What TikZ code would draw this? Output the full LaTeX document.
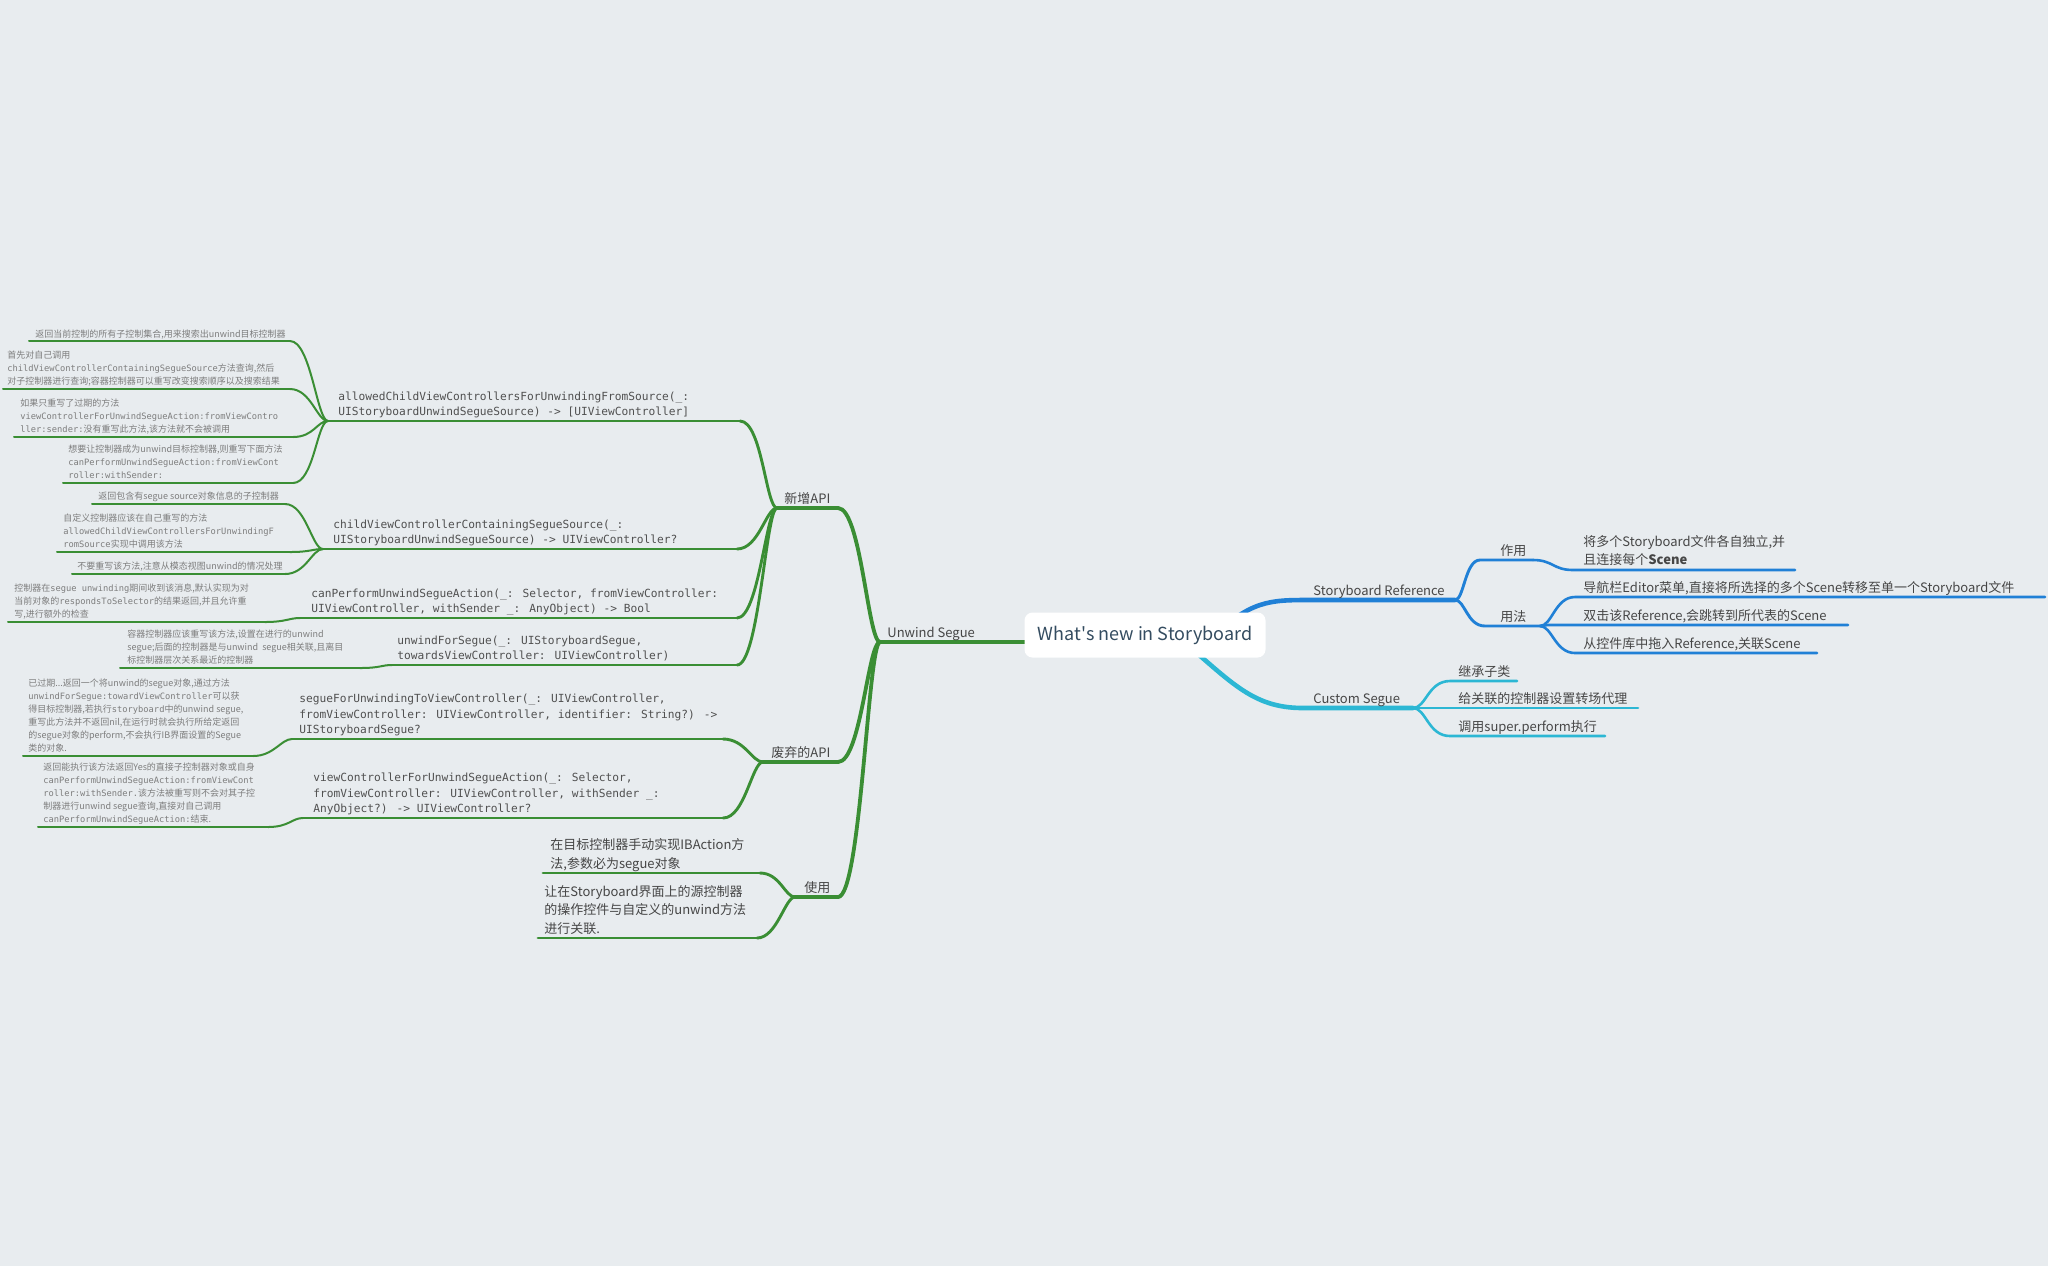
\documentclass[tikz,border=0pt]{standalone}
\usepackage{fontspec}
\setmainfont{Noto Sans CJK SC}
\newfontfamily\mono{DejaVu Sans Mono}
\definecolor{bgc}{RGB}{232,236,239}
\definecolor{grn}{RGB}{58,142,52}
\definecolor{blu}{RGB}{32,128,214}
\definecolor{cya}{RGB}{44,183,212}
\definecolor{labelc}{RGB}{70,70,70}
\definecolor{methc}{RGB}{80,80,80}
\definecolor{leafc}{RGB}{125,125,125}
\definecolor{rootc}{RGB}{52,76,96}
\newcommand\lm[1]{{\mono\fontsize{4.37pt}{6.5pt}\selectfont #1}}
\tikzset{
  lbl/.style={anchor=south west, inner sep=0pt, text depth=0pt, font=\fontsize{6.5pt}{8pt}\selectfont, text=labelc},
  meth/.style={anchor=south west, inner sep=0pt, text depth=0pt, align=left, font=\mono\fontsize{5.6pt}{7.75pt}\selectfont, text=methc},
  leaf/.style={anchor=south west, inner sep=0pt, text depth=0pt, align=left, font=\fontsize{4.5pt}{6.5pt}\selectfont, text=leafc},
  big/.style={anchor=south west, inner sep=0pt, text depth=0pt, align=left, font=\fontsize{6.5pt}{9.2pt}\selectfont, text=labelc},
  rootbox/.style={fill=white, rounded corners=4pt, minimum width=120.5pt, minimum height=22.5pt, inner sep=0pt, font=\fontsize{9pt}{11pt}\selectfont, text=rootc},
  trunk/.style={line width=2.3pt, line cap=round},
  lvone/.style={line width=1.9pt, line cap=round},
  lvtwo/.style={line width=1.45pt, line cap=round},
  lvthree/.style={line width=1.0pt, line cap=round},
  lvright/.style={line width=1.3pt, line cap=round},
}
\begin{document}
\begin{tikzpicture}[x=0.5pt,y=-0.5pt]
\fill[bgc] (0,0) rectangle (2048,1266);
\useasboundingbox (0,0) rectangle (2048,1266);

% ---------- coordinates ----------
\coordinate (Ul) at (880,642);  \coordinate (Ur) at (1100,642);
\coordinate (Nl) at (777,508);  \coordinate (Nr) at (838,508);
\coordinate (Dl) at (763,762);  \coordinate (Dr) at (838,762);
\coordinate (Yl) at (795,897);  \coordinate (Yr) at (838,897);
\coordinate (Al) at (328,421);  \coordinate (Ar) at (740,421);
\coordinate (Cl) at (323,549);  \coordinate (Cr) at (737,549);
\coordinate (Pl) at (300,618);  \coordinate (Pr) at (737,618);
\coordinate (Wl) at (392,665);  \coordinate (Wr) at (737,665);
\coordinate (Sl) at (292,739);  \coordinate (Sr) at (723,739);
\coordinate (Vl) at (303,818);  \coordinate (Vr) at (723,818);
\coordinate (al) at (29,341);   \coordinate (ar) at (290,341);
\coordinate (bl) at (3,389);    \coordinate (br) at (290,389);
\coordinate (cl) at (14,437);   \coordinate (cr) at (293,437);
\coordinate (dl) at (63,483);   \coordinate (dr) at (293,483);
\coordinate (el) at (92,504);   \coordinate (er) at (285,504);
\coordinate (fl) at (57,552);   \coordinate (fr) at (290,552);
\coordinate (gl) at (72,574);   \coordinate (gr) at (285,574);
\coordinate (hl) at (8,622);    \coordinate (hr) at (265,622);
\coordinate (il) at (120,668);  \coordinate (ir) at (360,668);
\coordinate (jl) at (23,756);   \coordinate (jr) at (253,756);
\coordinate (kl) at (38,827);   \coordinate (kr) at (268,827);
\coordinate (ll) at (543,873);  \coordinate (lr) at (760,873);
\coordinate (ml) at (538,938);  \coordinate (mr) at (757,938);
% right side
\coordinate (rb) at (1210,640); \coordinate (rc) at (1170,630);
\coordinate (Rl) at (1310,600); \coordinate (Rr) at (1455,600);
\coordinate (Zl) at (1480,560); \coordinate (Zr) at (1533,560);
\coordinate (Fl) at (1485,626); \coordinate (Fr) at (1540,626);
\coordinate (zal) at (1573,570); \coordinate (zar) at (1795,570);
\coordinate (fal) at (1575,597); \coordinate (far) at (2045,597);
\coordinate (fbl) at (1548,625); \coordinate (fbr) at (1848,625);
\coordinate (fcl) at (1575,653); \coordinate (fcr) at (1817,653);
\coordinate (CSl) at (1303,708); \coordinate (CSr) at (1413,708);
\coordinate (sal) at (1450,681); \coordinate (sar) at (1517,681);
\coordinate (sbl) at (1420,708); \coordinate (sbr) at (1638,708);
\coordinate (scl) at (1450,736); \coordinate (scr) at (1605,736);

% ---------- green (left) ----------
\begin{scope}[draw=grn]
\draw[trunk] (Ul) -- (Ur);
\foreach \p in {N,D,Y}{
  \draw[lvone] (\p l) -- (\p r);
  \draw[lvone] (\p r) .. controls +(23,0) and +(-12,0) .. (Ul);
}
\foreach \p/\q in {A/N,C/N,P/N,W/N,S/D,V/D}{
  \draw[lvtwo] (\p l) -- (\p r);
  \draw[lvtwo] (\p r) .. controls +(22,0) and +(-11,0) .. (\q l);
}
\foreach \p/\q in {l/Y,m/Y}{
  \draw[lvtwo] (\p l) -- (\p r);
  \draw[lvtwo] (\p r) .. controls +(20,0) and +(-10,0) .. (\q l);
}
\foreach \p/\q in {a/A,b/A,c/A,d/A,e/C,f/C,g/C,h/P,i/W,j/S,k/V}{
  \draw[lvthree] (\p l) -- (\p r);
  \draw[lvthree] (\p r) .. controls +(21,0) and +(-11,0) .. (\q l);
}
\end{scope}

% ---------- blue (Storyboard Reference) ----------
\begin{scope}[draw=blu]
\draw[trunk] (rb) .. controls +(40,-40) and +(-40,0) .. (Rl) -- (Rr);
\draw[lvtwo] (Rr) .. controls +(9,0) and +(-15,0) .. (Zl) -- (Zr);
\draw[lvtwo] (Rr) .. controls +(10,0) and +(-18,0) .. (Fl) -- (Fr);
\draw[lvright] (Zr) .. controls +(20,0) and +(-20,0) .. (zal) -- (zar);
\draw[lvright] (Fr) .. controls +(12,0) and +(-20,0) .. (fal) -- (far);
\draw[lvright] (Fr) -- (fbl) -- (fbr);
\draw[lvright] (Fr) .. controls +(12,0) and +(-20,0) .. (fcl) -- (fcr);
\end{scope}

% ---------- cyan (Custom Segue) ----------
\begin{scope}[draw=cya]
\draw[trunk] (rc) .. controls +(60,50) and +(-53,0) .. (CSl) -- (CSr);
\draw[lvright] (CSr) .. controls +(13,0) and +(-22,0) .. (sal) -- (sar);
\draw[lvright] (CSr) -- (sbl) -- (sbr);
\draw[lvright] (CSr) .. controls +(13,0) and +(-22,0) .. (scl) -- (scr);
\end{scope}

% ---------- root ----------
\node[rootbox] (root) at (1145,635) {What\textquotesingle{}s new in Storyboard};

% ---------- labels ----------
\node[lbl] (tU) at (887,637.5) {Unwind Segue};
\node[lbl] (tN) at (784,503.5) {新增API};
\node[lbl] (tD) at (771,757.5) {废弃的API};
\node[lbl] (tY) at (804,892.5) {使用};
\node[lbl] (tR) at (1313,595.5) {Storyboard Reference};
\node[lbl] (tZ) at (1500,555.5) {作用};
\node[lbl] (tF) at (1500,621.5) {用法};
\node[lbl] (tCS) at (1313,703.5) {Custom Segue};

% ---------- methods ----------
\node[meth] (tA) at (338,416) {allowedChildViewControllersForUnwindingFromSource(\_:\\UIStoryboardUnwindSegueSource) -> [UIViewController]};
\node[meth] (tC) at (333,544) {childViewControllerContainingSegueSource(\_:\\UIStoryboardUnwindSegueSource) -> UIViewController?};
\node[meth] (tP) at (311,613) {canPerformUnwindSegueAction(\_: Selector, fromViewController:\\UIViewController, withSender \_: AnyObject) -> Bool};
\node[meth] (tW) at (397,660) {unwindForSegue(\_: UIStoryboardSegue,\\towardsViewController: UIViewController)};
\node[meth] (tS) at (299,734) {segueForUnwindingToViewController(\_: UIViewController,\\fromViewController: UIViewController, identifier: String?) ->\\UIStoryboardSegue?};
\node[meth] (tV) at (313,813) {viewControllerForUnwindSegueAction(\_: Selector,\\fromViewController: UIViewController, withSender \_:\\AnyObject?) -> UIViewController?};

% ---------- small leaves ----------
\node[leaf] (la) at (35,337.5) {返回当前控制的所有子控制集合,用来搜索出unwind目标控制器};
\node[leaf] (lb) at (7,385) {首先对自己调用\\\lm{childViewControllerContainingSegueSource}方法查询,然后\\对子控制器进行查询;容器控制器可以重写改变搜索顺序以及搜索结果};
\node[leaf] (lc) at (20,433) {如果只重写了过期的方法\\\lm{viewControllerForUnwindSegueAction:fromViewContro}\\\lm{ller:sender:}没有重写此方法,该方法就不会被调用};
\node[leaf] (ld) at (68,479) {想要让控制器成为unwind目标控制器,则重写下面方法\\\lm{canPerformUnwindSegueAction:fromViewCont}\\\lm{roller:withSender:}};
\node[leaf] (le) at (98,500) {返回包含有segue source对象信息的子控制器};
\node[leaf] (lf) at (63,548) {自定义控制器应该在自己重写的方法\\\lm{allowedChildViewControllersForUnwindingF}\\\lm{romSource}实现中调用该方法};
\node[leaf] (lg) at (77,570) {不要重写该方法,注意从模态视图unwind的情况处理};
\node[leaf] (lh) at (14,618) {控制器在\lm{segue unwinding}期间收到该消息,默认实现为对\\当前对象的\lm{respondsToSelector}的结果返回,并且允许重\\写,进行额外的检查};
\node[leaf] (li) at (127,664) {容器控制器应该重写该方法,设置在进行的unwind\\segue;后面的控制器是与unwind\ \ segue相关联,且离目\\标控制器层次关系最近的控制器};
\node[leaf] (lj) at (28,752) {已过期...返回一个将unwind的segue对象,通过方法\\\lm{unwindForSegue:towardViewController}可以获\\得目标控制器,若执行\lm{storyboard}中的unwind segue,\\重写此方法并不返回nil,在运行时就会执行所给定返回\\的segue对象的perform,不会执行IB界面设置的Segue\\类的对象.};
\node[leaf] (lk) at (43,823) {返回能执行该方法返回Yes的直接子控制器对象或自身\\\lm{canPerformUnwindSegueAction:fromViewCont}\\\lm{roller:withSender.}该方法被重写则不会对其子控\\制器进行unwind segue查询,直接对自己调用\\\lm{canPerformUnwindSegueAction:}结束.};

% ---------- big leaves ----------
\node[big] (ll1) at (550,868.5) {在目标控制器手动实现IBAction方\\法,参数必为segue对象};
\node[big] (lm1) at (544,933.5) {让在Storyboard界面上的源控制器\\的操作控件与自定义的unwind方法\\进行关联.};
\node[big] (rza) at (1583,565) {将多个Storyboard文件各自独立,并\\且连接每个\textbf{Scene}};
\node[big] (rfa) at (1583,593) {导航栏Editor菜单,直接将所选择的多个Scene转移至单一个Storyboard文件};
\node[big] (rfb) at (1583,621) {双击该Reference,会跳转到所代表的Scene};
\node[big] (rfc) at (1583,649) {从控件库中拖入Reference,关联Scene};
\node[big] (rsa) at (1458,677) {继承子类};
\node[big] (rsb) at (1458,704) {给关联的控制器设置转场代理};
\node[big] (rsc) at (1458,732) {调用super.perform执行};
\end{tikzpicture}
\end{document}
